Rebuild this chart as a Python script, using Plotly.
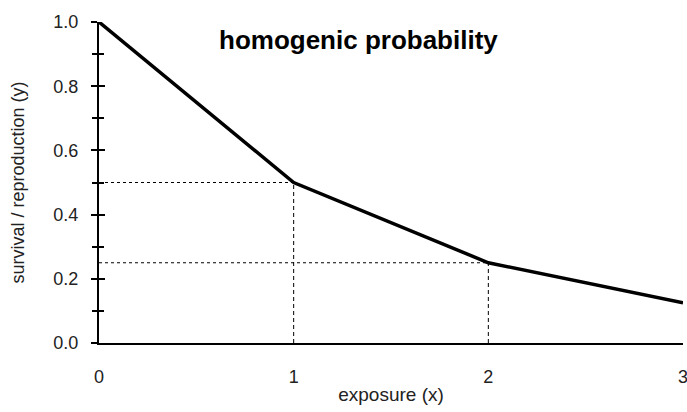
import plotly.graph_objects as go

exposure = [0, 1, 2, 3]
survival = [1.0, 0.5, 0.25, 0.125]

# guide lines
h_levels = [0.5, 0.25]
h_ends = [1, 2]

fig = go.Figure()

for lvl, xe in zip(h_levels, h_ends):
    fig.add_trace(go.Scatter(x=[0, xe], y=[lvl, lvl], mode="lines",
                             line=dict(color="black", width=1, dash="dot"),
                             showlegend=False, hoverinfo="skip"))
    fig.add_trace(go.Scatter(x=[xe, xe], y=[0, lvl], mode="lines",
                             line=dict(color="black", width=1, dash="4px,3px"),
                             showlegend=False, hoverinfo="skip"))

fig.add_trace(go.Scatter(x=exposure, y=survival, mode="lines",
                         line=dict(color="black", width=3.5),
                         showlegend=False))

# invisible trace for overlay axis (inside ticks)
fig.add_trace(go.Scatter(x=[0], y=[0], yaxis="y2", mode="markers",
                         marker=dict(opacity=0), showlegend=False, hoverinfo="skip"))

font = "Liberation Sans, Arial, sans-serif"
fig.update_layout(
    width=687, height=412,
    margin=dict(l=99, r=4, t=22, b=69),
    paper_bgcolor="white", plot_bgcolor="white",
    font=dict(family=font, size=18, color="#222"),
    xaxis=dict(range=[0, 3], showgrid=False, zeroline=False, automargin=False,
               showline=True, linecolor="black", linewidth=2,
               tickvals=[0, 1, 2, 3], ticks="", ticklen=0,
               ticklabelstandoff=16, ticklabeloverflow="allow",
               tickfont=dict(size=18),
               title=dict(text="exposure (x)", standoff=2,
                          font=dict(size=19, color="#222"))),
    yaxis=dict(range=[0, 1.0], showgrid=False, zeroline=False, automargin=False,
               showline=True, linecolor="black", linewidth=2,
               tickvals=[0, 0.2, 0.4, 0.6, 0.8, 1.0], tickformat=".1f",
               ticks="outside", ticklen=6, tickwidth=2, tickcolor="black",
               ticklabelstandoff=9, tickfont=dict(size=18),
               minor=dict(tickvals=[0.1, 0.3, 0.5, 0.7, 0.9], ticks="outside",
                          ticklen=5, tickwidth=1.5, tickcolor="black"),
               title=dict(text="survival / reproduction (y)", standoff=24,
                          font=dict(size=18, color="#222"))),
    yaxis2=dict(range=[0, 1.0], overlaying="y", side="left", anchor="x",
                showgrid=False, zeroline=False, showline=False, automargin=False,
                showticklabels=False,
                tickvals=[0, 0.2, 0.4, 0.6, 0.8, 1.0],
                ticks="inside", ticklen=6, tickwidth=2, tickcolor="black",
                minor=dict(tickvals=[0.1, 0.3, 0.5, 0.7, 0.9], ticks="inside",
                           ticklen=5, tickwidth=1.5, tickcolor="black")),
    annotations=[dict(text="<b>homogenic probability</b>", xref="paper", yref="paper",
                      x=0.445, y=0.944, yanchor="middle", xanchor="center",
                      showarrow=False,
                      font=dict(family=font, size=26, color="black"))],
)

fig.write_html("out.html", config={"displayModeBar": False},
               post_script="document.body.style.margin='0';document.body.style.overflow='hidden';")
